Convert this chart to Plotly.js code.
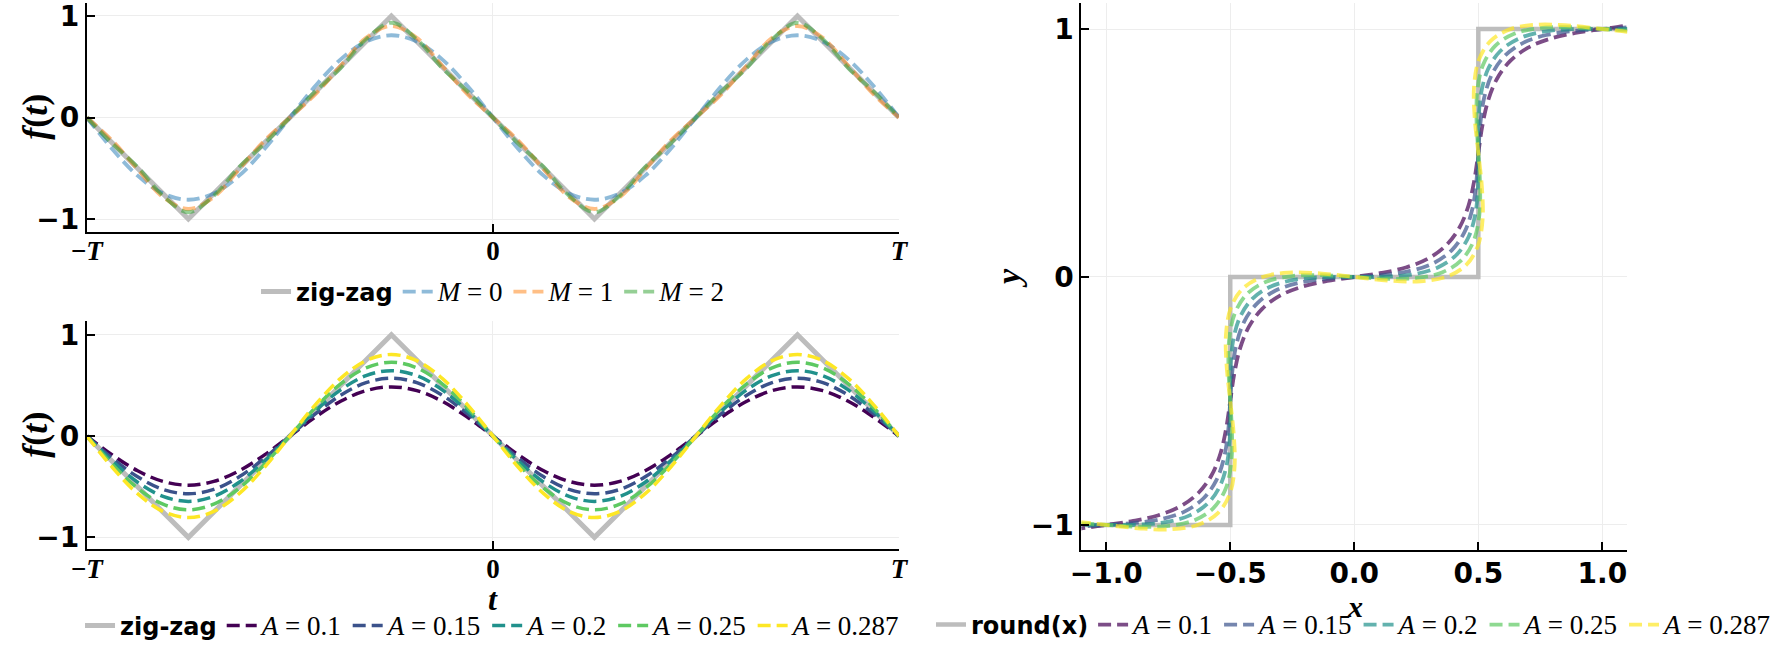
<!DOCTYPE html>
<html>
<head>
<meta charset="utf-8">
<script src="https://cdn.plot.ly/plotly-3.0.1.min.js"></script>
<style>html,body{margin:0;padding:0;background:#fff;}#chart{width:1778px;height:660px;}</style>
</head>
<body>
<div id="chart"></div>
<script>
// ---------- data: top-left (Fourier partial sums of the zig-zag) ----------
const t = [-1,-0.9375,-0.875,-0.8125,-0.75,-0.6875,-0.625,-0.5625,-0.5,-0.4375,-0.375,-0.3125,-0.25,-0.1875,-0.125,-0.0625,0,0.0625,0.125,0.1875,0.25,0.3125,0.375,0.4375,0.5,0.5625,0.625,0.6875,0.75,0.8125,0.875,0.9375,1];
const zigT = [-1,-0.75,-0.25,0.25,0.75,1];
const zigF = [0,-1,1,-1,1,0];
const M0 = [0,-0.31,-0.573,-0.748,-0.81,-0.748,-0.573,-0.31,0,0.31,0.573,0.748,0.81,0.748,0.573,0.31,0,-0.31,-0.573,-0.748,-0.81,-0.748,-0.573,-0.31,0,0.31,0.573,0.748,0.81,0.748,0.573,0.31,0];
const M1 = [0,-0.227,-0.51,-0.784,-0.901,-0.784,-0.51,-0.227,0,0.227,0.51,0.784,0.901,0.784,0.51,0.227,0,-0.227,-0.51,-0.784,-0.901,-0.784,-0.51,-0.227,0,0.227,0.51,0.784,0.901,0.784,0.51,0.227,0];
const M2 = [0,-0.257,-0.487,-0.771,-0.933,-0.771,-0.487,-0.257,0,0.257,0.487,0.771,0.933,0.771,0.487,0.257,0,-0.257,-0.487,-0.771,-0.933,-0.771,-0.487,-0.257,0,0.257,0.487,0.771,0.933,0.771,0.487,0.257,0];
const mLabels = ['0','1','2'];

// ---------- data: bottom-left (smoothed zig-zag for several A) ----------
const A_labels = ['0.1','0.15','0.2','0.25','0.287'];
const fA01  = [0,-0.186,-0.343,-0.448,-0.485,-0.448,-0.343,-0.186,0,0.186,0.343,0.448,0.485,0.448,0.343,0.186,0,-0.186,-0.343,-0.448,-0.485,-0.448,-0.343,-0.186,0,0.186,0.343,0.448,0.485,0.448,0.343,0.186,0];
const fA015 = [0,-0.218,-0.403,-0.527,-0.57,-0.527,-0.403,-0.218,0,0.218,0.403,0.527,0.57,0.527,0.403,0.218,0,-0.218,-0.403,-0.527,-0.57,-0.527,-0.403,-0.218,0,0.218,0.403,0.527,0.57,0.527,0.403,0.218,0];
const fA02  = [0,-0.247,-0.456,-0.596,-0.645,-0.596,-0.456,-0.247,0,0.247,0.456,0.596,0.645,0.596,0.456,0.247,0,-0.247,-0.456,-0.596,-0.645,-0.596,-0.456,-0.247,0,0.247,0.456,0.596,0.645,0.596,0.456,0.247,0];
const fA025 = [0,-0.279,-0.515,-0.673,-0.728,-0.673,-0.515,-0.279,0,0.279,0.515,0.673,0.728,0.673,0.515,0.279,0,-0.279,-0.515,-0.673,-0.728,-0.673,-0.515,-0.279,0,0.279,0.515,0.673,0.728,0.673,0.515,0.279,0];
const fA0287= [0,-0.308,-0.569,-0.744,-0.805,-0.744,-0.569,-0.308,0,0.308,0.569,0.744,0.805,0.744,0.569,0.308,0,-0.308,-0.569,-0.744,-0.805,-0.744,-0.569,-0.308,0,0.308,0.569,0.744,0.805,0.744,0.569,0.308,0];

// ---------- data: right (round(x) and smooth approximations) ----------
const roundX = [-1.1,-0.5,-0.5,0.5,0.5,1.1];
const roundY = [-1,-1,0,0,1,1];
const xA01 = [-1.2108,-1.1089,-1,-0.8911,-0.7892,-0.7004,-0.6287,-0.5754,-0.5392,-0.5161,-0.5,-0.4839,-0.4608,-0.4246,-0.3713,-0.2996,-0.2108,-0.1089,0,0.1089,0.2108,0.2996,0.3713,0.4246,0.4608,0.4839,0.5,0.5161,0.5392,0.5754,0.6287,0.7004,0.7892,0.8911,1,1.1089,1.2108];
const yA01 = [-1.0392,-1.0161,-1,-0.9839,-0.9608,-0.9246,-0.8713,-0.7996,-0.7108,-0.6089,-0.5,-0.3911,-0.2892,-0.2004,-0.1287,-0.0754,-0.0392,-0.0161,0,0.0161,0.0392,0.0754,0.1287,0.2004,0.2892,0.3911,0.5,0.6089,0.7108,0.7996,0.8713,0.9246,0.9608,0.9839,1,1.0161,1.0392];
const xA015 = [-1.2258,-1.117,-1,-0.883,-0.7742,-0.6808,-0.6075,-0.5558,-0.5242,-0.508,-0.5,-0.492,-0.4758,-0.4442,-0.3925,-0.3192,-0.2258,-0.117,0,0.117,0.2258,0.3192,0.3925,0.4442,0.4758,0.492,0.5,0.508,0.5242,0.5558,0.6075,0.6808,0.7742,0.883,1,1.117,1.2258];
const yA015 = [-1.0242,-1.008,-1,-0.992,-0.9758,-0.9442,-0.8925,-0.8192,-0.7258,-0.617,-0.5,-0.383,-0.2742,-0.1808,-0.1075,-0.0558,-0.0242,-0.008,0,0.008,0.0242,0.0558,0.1075,0.1808,0.2742,0.383,0.5,0.617,0.7258,0.8192,0.8925,0.9442,0.9758,0.992,1,1.008,1.0242];
const xA02 = [-1.2391,-1.1242,-1,-0.8758,-0.7609,-0.6635,-0.5887,-0.5385,-0.5109,-0.5008,-0.5,-0.4992,-0.4891,-0.4615,-0.4113,-0.3365,-0.2391,-0.1242,0,0.1242,0.2391,0.3365,0.4113,0.4615,0.4891,0.4992,0.5,0.5008,0.5109,0.5385,0.5887,0.6635,0.7609,0.8758,1,1.1242,1.2391];
const yA02 = [-1.0109,-1.0008,-1,-0.9992,-0.9891,-0.9615,-0.9113,-0.8365,-0.7391,-0.6242,-0.5,-0.3758,-0.2609,-0.1635,-0.0887,-0.0385,-0.0109,-0.0008,0,0.0008,0.0109,0.0385,0.0887,0.1635,0.2609,0.3758,0.5,0.6242,0.7391,0.8365,0.9113,0.9615,0.9891,0.9992,1,1.0008,1.0109];
const xA025 = [-1.2537,-1.1322,-1,-0.8678,-0.7463,-0.6443,-0.568,-0.5193,-0.4963,-0.4928,-0.5,-0.5072,-0.5037,-0.4807,-0.432,-0.3557,-0.2537,-0.1322,0,0.1322,0.2537,0.3557,0.432,0.4807,0.5037,0.5072,0.5,0.4928,0.4963,0.5193,0.568,0.6443,0.7463,0.8678,1,1.1322,1.2537];
const yA025 = [-0.9963,-0.9928,-1,-1.0072,-1.0037,-0.9807,-0.932,-0.8557,-0.7537,-0.6322,-0.5,-0.3678,-0.2463,-0.1443,-0.068,-0.0193,0.0037,0.0072,0,-0.0072,-0.0037,0.0193,0.068,0.1443,0.2463,0.3678,0.5,0.6322,0.7537,0.8557,0.932,0.9807,1.0037,1.0072,1,0.9928,0.9963];
const xA0287 = [-1.2673,-1.1395,-1,-0.8605,-0.7327,-0.6265,-0.5487,-0.5015,-0.4827,-0.4855,-0.5,-0.5145,-0.5173,-0.4985,-0.4513,-0.3735,-0.2673,-0.1395,0,0.1395,0.2673,0.3735,0.4513,0.4985,0.5173,0.5145,0.5,0.4855,0.4827,0.5015,0.5487,0.6265,0.7327,0.8605,1,1.1395,1.2673];
const yA0287 = [-0.9827,-0.9855,-1,-1.0145,-1.0173,-0.9985,-0.9513,-0.8735,-0.7673,-0.6395,-0.5,-0.3605,-0.2327,-0.1265,-0.0487,-0.0015,0.0173,0.0145,0,-0.0145,-0.0173,0.0015,0.0487,0.1265,0.2327,0.3605,0.5,0.6395,0.7673,0.8735,0.9513,0.9985,1.0173,1.0145,1,0.9855,0.9827];

// ---------- tick labels ----------
const tTickVals = [-1,0,1];
const tTickText = ['−<i>T</i>','0','<i>T</i>'];
const yTickVals = [-1,0,1];
const rxTickVals = [-1,-0.5,0,0.5,1];

// ---------- styling ----------
const GRAY = '#bdbdbd';
const tab = ['rgba(31,119,180,0.5)','rgba(255,127,14,0.5)','rgba(44,160,44,0.5)'];
const vir = ['#440154','#3b528b','#21918c','#5ec962','#fde725'];
const virA = ['rgba(68,1,84,0.7)','rgba(59,82,139,0.7)','rgba(33,145,140,0.7)','rgba(94,201,98,0.7)','rgba(253,231,37,0.7)'];
const DASH = '13px,6px';
const serif = (s) => '<span style="font-family:Liberation Serif;font-weight:normal;font-size:27px">' + s + '</span>';

const traces = [];
// top-left
traces.push({x: zigT, y: zigF, xaxis:'x', yaxis:'y', mode:'lines', name:'zig-zag', legend:'legend',
  line:{color:GRAY, width:5}});
[M0, M1, M2].forEach((arr, i) => traces.push({x: t, y: arr, xaxis:'x', yaxis:'y', mode:'lines',
  name: serif('<i>M</i> = ' + mLabels[i]), legend:'legend',
  line:{color:tab[i], width:3.8, dash:DASH, shape:'spline', smoothing:1}}));
// bottom-left
traces.push({x: zigT, y: zigF, xaxis:'x2', yaxis:'y2', mode:'lines', name:'zig-zag', legend:'legend2',
  line:{color:GRAY, width:5}});
[fA01, fA015, fA02, fA025, fA0287].forEach((arr, i) => traces.push({x: t, y: arr, xaxis:'x2', yaxis:'y2', mode:'lines',
  name: serif('<i>A</i> = ' + A_labels[i]), legend:'legend2',
  line:{color:vir[i], width:3.5, dash:DASH, shape:'spline', smoothing:1}}));
// right
traces.push({x: roundX, y: roundY, xaxis:'x3', yaxis:'y3', mode:'lines', name:'round(x)', legend:'legend3',
  line:{color:GRAY, width:4.5}});
[[xA01,yA01],[xA015,yA015],[xA02,yA02],[xA025,yA025],[xA0287,yA0287]].forEach((p, i) => traces.push({x: p[0], y: p[1], xaxis:'x3', yaxis:'y3', mode:'lines',
  name: serif('<i>A</i> = ' + A_labels[i]), legend:'legend3',
  line:{color:virA[i], width:3.8, dash:DASH, shape:'spline', smoothing:1}}));

const axBase = {showline:true, linecolor:'#000', linewidth:2, mirror:false, ticks:'inside', ticklen:8, tickwidth:2, tickcolor:'#000',
  showgrid:true, gridcolor:'#ededed', gridwidth:1, zeroline:false, fixedrange:true, ticklabeloverflow:'allow'};
const sansTick = {family:'DejaVu Sans', size:28, color:'#000', weight:'bold'};
const serifTick = {family:'Liberation Serif', size:27, color:'#000', weight:'bold'};
const titleFont = {family:'Liberation Serif', size:34, color:'#000', weight:'bold'};
const legFont = {family:'DejaVu Sans', size:24, color:'#000', weight:'bold'};
const legBase = {orientation:'h', xanchor:'center', yanchor:'middle', bgcolor:'rgba(0,0,0,0)', font:legFont, itemwidth:30, tracegroupgap:0};

const axisTitle = (text, x, y, angle, size) => ({text, xref:'paper', yref:'paper', x, y, showarrow:false,
  xanchor:'center', yanchor:'middle', textangle:angle, font:Object.assign({}, titleFont, {size})});

const layout = {
  width:1778, height:660, margin:{l:0,r:0,t:0,b:0}, paper_bgcolor:'#fff', plot_bgcolor:'#fff',
  font:{family:'DejaVu Sans', size:24, color:'#000'},
  showlegend:true,
  xaxis: Object.assign({}, axBase, {domain:[0.0489,0.5062], anchor:'y', range:[-1,1], tickvals:tTickVals, ticktext:tTickText, tickfont:serifTick, linewidth:2.5, ticklabelstandoff:-6}),
  yaxis: Object.assign({}, axBase, {domain:[0.6492,0.9955], anchor:'x', range:[-1.123,1.128], tickvals:yTickVals, tickfont:sansTick}),
  xaxis2: Object.assign({}, axBase, {domain:[0.0489,0.5062], anchor:'y2', range:[-1,1], tickvals:tTickVals, ticktext:tTickText, tickfont:serifTick, ticklabelstandoff:-6}),
  yaxis2: Object.assign({}, axBase, {domain:[0.1677,0.5136], anchor:'x2', range:[-1.118,1.135], tickvals:yTickVals, tickfont:sansTick}),
  xaxis3: Object.assign({}, axBase, {domain:[0.6089,0.9162], anchor:'y3', range:[-1.1,1.1], tickvals:rxTickVals, tickformat:'.1f', tickfont:sansTick, ticklabelstandoff:-3}),
  yaxis3: Object.assign({}, axBase, {domain:[0.1667,0.9955], anchor:'x3', range:[-1.101,1.105], tickvals:yTickVals, tickfont:sansTick,
    title:{text:'<i>y</i>', font:titleFont, standoff:0}}),
  legend: Object.assign({}, legBase, {x:0.2776, y:0.5576}),
  legend2: Object.assign({}, legBase, {x:0.2776, y:0.0515}),
  legend3: Object.assign({}, legBase, {x:0.7627, y:0.053}),
  annotations: [
    axisTitle('<i>f</i>(<i>t</i>)', 0.0195, 0.8227, -90, 36),
    axisTitle('<i>f</i>(<i>t</i>)', 0.0195, 0.3409, -90, 36),
    axisTitle('<i>t</i>', 0.2776, 0.093, 0, 32),
    axisTitle('<i>x</i>', 0.7627, 0.081, 0, 30)
  ]
};

Plotly.newPlot('chart', traces, layout, {staticPlot:true, displayModeBar:false});
</script>
</body>
</html>
